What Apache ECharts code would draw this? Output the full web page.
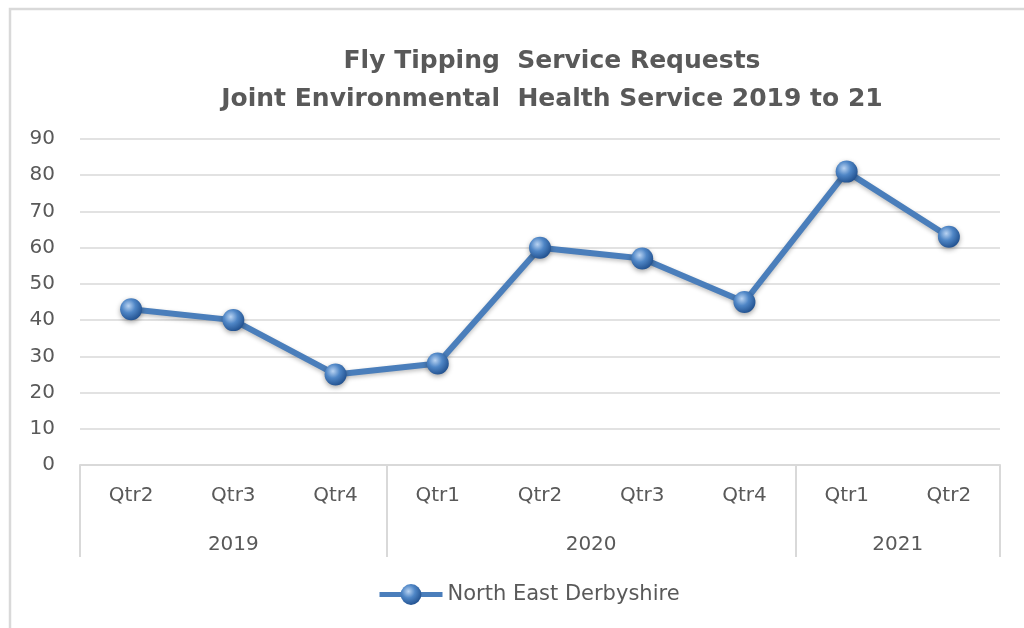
<!DOCTYPE html>
<html>
<head>
<meta charset="utf-8">
<script src="https://cdn.jsdelivr.net/npm/echarts@6/dist/echarts.min.js"></script>
<style>
  html, body { margin: 0; padding: 0; background: #fff; }
  #main { width: 1024px; height: 628px; }
</style>
</head>
<body>
<div id="main"></div>
<script>
// quarters and years on the category axis
const quarters = ['Qtr2', 'Qtr3', 'Qtr4', 'Qtr1', 'Qtr2', 'Qtr3', 'Qtr4', 'Qtr1', 'Qtr2']
const years = ['2019', '2020', '2021']
const yearStart = [0, 3, 7]      // index of first quarter in each year
const yearSpan = [3, 4, 2]       // quarters in each year
const requests = [43, 40, 25, 28, 60, 57, 45, 81, 63]
const seriesName = 'North East Derbyshire'

const textColor = '#595959'
const lineGray = '#d9d9d9'
const blue = '#4a7ebb'
const font = 'DejaVu Sans'

// year label positions (centre of each group) on a 0..9 value axis
const yearCentres = yearStart.map((s, i) => s + yearSpan[i] / 2)

const chart = echarts.init(document.getElementById('main'))

const sphere = {
  type: 'radial', x: 0.38, y: 0.35, r: 0.7,
  colorStops: [
    { offset: 0, color: '#b9d3f2' },
    { offset: 0.45, color: '#4f86c6' },
    { offset: 1, color: '#1f4e8c' }
  ]
}

const option = {
  animation: false,
  title: {
    text: 'Fly Tipping  Service Requests\nJoint Environmental  Health Service 2019 to 21',
    left: 547,
    textAlign: 'center',
    top: 37,
    textStyle: {
      color: textColor,
      fontFamily: font,
      fontWeight: 'bold',
      fontSize: 25,
      lineHeight: 38
    }
  },
  graphic: [{
    type: 'rect',
    shape: { x: 10, y: 9, width: 1030, height: 640 },
    style: { fill: 'none', stroke: lineGray, lineWidth: 2.5 },
    silent: true
  }],
  legend: {
    bottom: 18,
    left: 372,
    itemWidth: 63,
    itemHeight: 26,
    lineStyle: { width: 5 },
    textStyle: { color: textColor, fontSize: 21, fontFamily: font },
    data: [seriesName]
  },
  grid: { left: 80, right: 24, top: 139, bottom: 163 },
  xAxis: [
    {
      type: 'category',
      data: quarters,
      boundaryGap: true,
      axisLine: { show: true, lineStyle: { color: lineGray, width: 2 } },
      axisTick: {
        show: true,
        length: 92,
        interval: (idx) => yearStart.indexOf(idx) >= 0,
        lineStyle: { color: lineGray, width: 2 }
      },
      axisLabel: {
        color: textColor, fontSize: 20, fontFamily: font,
        margin: 21, interval: 0
      }
    },
    {
      type: 'value',
      position: 'bottom',
      min: 0,
      max: 9,
      axisLine: { show: false },
      axisTick: { show: false },
      splitLine: { show: false },
      axisLabel: {
        customValues: yearCentres,
        formatter: (v) => years[yearCentres.indexOf(v)],
        color: textColor, fontSize: 20, fontFamily: font,
        margin: 70
      }
    }
  ],
  yAxis: {
    type: 'value',
    min: 0,
    max: 90,
    interval: 10,
    axisLine: { show: false },
    axisTick: { show: false },
    axisLabel: { color: textColor, fontSize: 20, fontFamily: font, margin: 25 },
    splitLine: { lineStyle: { color: lineGray, width: 1.5 } }
  },
  series: [{
    name: seriesName,
    type: 'line',
    data: requests,
    symbol: 'circle',
    symbolSize: 22,
    lineStyle: {
      color: blue, width: 6,
      shadowColor: 'rgba(0,0,0,0.25)', shadowBlur: 4, shadowOffsetY: 2
    },
    itemStyle: {
      color: sphere,
      borderWidth: 0,
      shadowColor: 'rgba(0,0,0,0.35)', shadowBlur: 5, shadowOffsetY: 2
    }
  }]
}

chart.setOption(option)
</script>
</body>
</html>
